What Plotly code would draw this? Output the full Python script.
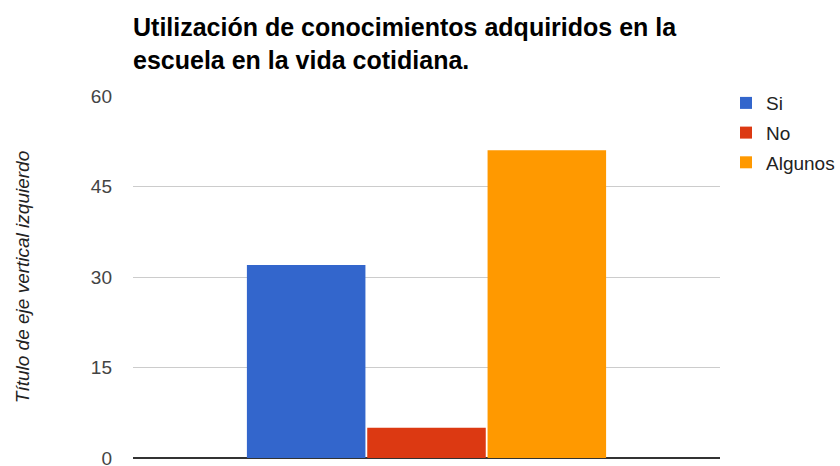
import plotly.graph_objects as go

categories = [""]
series_names = ["Si", "No", "Algunos"]
si_values = [32]
no_values = [5]
algunos_values = [51]
colors = ["#3366CC", "#DC3912", "#FF9900"]
y_ticks = [0, 15, 30, 45, 60]

title_text = "Utilización de conocimientos adquiridos en la<br>escuela en la vida cotidiana."
y_title = "Título de eje vertical izquierdo"

FONT = "Arial, 'Liberation Sans', sans-serif"

fig = go.Figure()
for name, vals, col in zip(series_names, [si_values, no_values, algunos_values], colors):
    fig.add_trace(go.Bar(
        x=categories, y=vals, name=name, legendgroup=name,
        marker=dict(color=col, line=dict(width=0)),
    ))

fig.update_layout(
    width=840, height=466,
    margin=dict(l=133, r=120, t=96, b=8, autoexpand=False),
    paper_bgcolor="white", plot_bgcolor="white",
    font=dict(family=FONT, size=19, color="#444444"),
    barmode="group", bargap=0.385, bargroupgap=0.015,
    title=dict(
        text=title_text,
        font=dict(family=FONT, size=25, color="#000000", weight="bold"),
        x=0, xref="paper", xanchor="left",
        y=1 - 36 / 466, yref="container", yanchor="top",
    ),
    legend=dict(
        x=1.0102, xanchor="left", y=1.033, yanchor="top",
        font=dict(family=FONT, size=19, color="#222222"),
        tracegroupgap=2, bgcolor="rgba(0,0,0,0)",
    ),
    xaxis=dict(showticklabels=False, showgrid=False, zeroline=False, ticks=""),
    yaxis=dict(
        range=[0, 60], tickvals=y_ticks, ticktext=[str(t) for t in y_ticks],
        showgrid=True, gridcolor="#CCCCCC", gridwidth=1,
        zeroline=True, zerolinecolor="#333333", zerolinewidth=2,
        ticks="", ticklabelstandoff=20, ticklabeloverflow="allow",
        tickfont=dict(family=FONT, size=19, color="#444444"),
        title=dict(text=y_title, standoff=56,
                   font=dict(family=FONT, size=19, color="#222222", style="italic")),
        automargin=False,
    ),
)

fig.write_html(
    "out.html",
    config={"displayModeBar": False},
    post_script="document.body.style.margin='0';document.body.style.overflow='hidden';",
)
